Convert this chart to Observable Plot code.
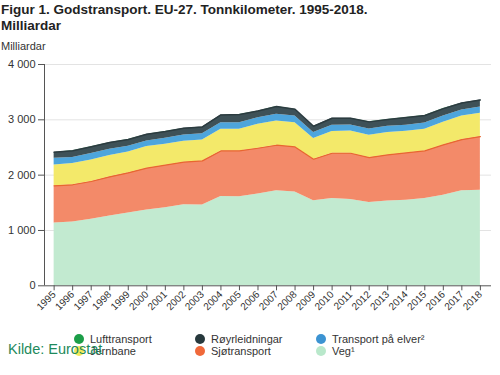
<!DOCTYPE html>
<html>
<head>
<meta charset="utf-8">
<script src="https://cdn.jsdelivr.net/npm/d3@7"></script>
<script src="https://cdn.jsdelivr.net/npm/@observablehq/plot@0.6"></script>
<style>
  html, body { margin: 0; padding: 0; background: #fff; }
  body { width: 500px; height: 375px; position: relative; overflow: hidden; font-family: "Liberation Sans", Arial, sans-serif; }
  #title { position: absolute; left: 1px; top: 2px; font-size: 13.5px; font-weight: bold; color: #222; line-height: 16px; }
  #unit { position: absolute; left: 1px; top: 40px; font-size: 11px; color: #333; }
  #chart { position: absolute; left: 0; top: 0; }
  .leg { position: absolute; font-size: 11px; color: #333; white-space: nowrap; line-height: 12px; }
  .dot { position: absolute; width: 10px; height: 10px; border-radius: 50%; }
  #source { position: absolute; left: 8px; top: 341px; font-size: 14.5px; color: #1e8a5c; white-space: nowrap; }
</style>
</head>
<body>
<div id="title">Figur 1. Godstransport. EU-27. Tonnkilometer. 1995-2018.<br>Milliardar</div>
<div id="unit">Milliardar</div>
<div id="chart"></div>
<div id="legend"></div>
<div id="source">Kilde: Eurostat</div>
<script>
const years = [1995,1996,1997,1998,1999,2000,2001,2002,2003,2004,2005,2006,2007,2008,2009,2010,2011,2012,2013,2014,2015,2016,2017,2018];
const veg  = [1135,1153,1201,1261,1315,1369,1411,1465,1459,1615,1609,1658,1717,1695,1537,1580,1558,1505,1533,1545,1578,1635,1717,1726];
const sjo  = [672,673,684,709,727,757,769,769,799,823,829,828,824,815,751,816,838,813,833,857,860,912,926,971];
const jern = [378,384,391,384,378,390,378,378,378,390,390,433,438,439,373,391,403,403,403,391,391,408,426,420];
const elv  = [121,108,114,114,102,102,108,114,114,120,120,120,120,120,108,114,108,114,114,108,114,114,108,114];
const royr = [108,120,120,120,120,120,120,120,120,139,145,120,138,120,114,126,120,126,120,138,132,132,126,126];
const luft = [2,2,2,2,2,2,2,2,2,2,2,2,2,2,2,2,2,2,2,2,2,2,2,2];

const seriesNames = ["Veg¹","Sjøtransport","Jernbane","Transport på elver²","Røyrleidningar","Lufttransport"];
const seriesValues = [veg, sjo, jern, elv, royr, luft];
const fillColors = ["#c2ead0","#f38a69","#f3e96a","#4da5dc","#3e5157","#1b9e4b"];
const legendColors = ["#b9e8cb","#f0693a","#f3ea5a","#3c93d2","#27393d","#1c9e48"];
const yTicks = [0,1000,2000,3000,4000];

const data = [];
seriesNames.forEach((s, k) => years.forEach((y, i) => data.push({year: y, series: s, value: seriesValues[k][i]})));
const sjoTop = years.map((y, i) => ({year: y, value: veg[i] + sjo[i]}));
const total = years.map((y, i) => ({year: y, value: seriesValues.reduce((a, arr) => a + arr[i], 0)}));

const fmt = d => d3.format(",")(d).replace(/,/g, " ");

const chart = Plot.plot({
  width: 500,
  height: 330,
  marginLeft: 44,
  marginRight: 9,
  marginTop: 64,
  marginBottom: 44.7,
  style: {fontFamily: "'Liberation Sans', Arial, sans-serif", fontSize: "11px", color: "#333", background: "transparent"},
  x: {domain: [1994.48, 2018.6]},
  y: {domain: [0, 4000]},
  color: {domain: seriesNames, range: fillColors},
  marks: [
    Plot.gridY(yTicks.slice(1), {stroke: "#e3e3e3", strokeOpacity: 1}),
    Plot.areaY(data, Plot.stackY({x: "year", y: "value", z: "series", fill: "series", order: seriesNames})),
    Plot.lineY(sjoTop, {x: "year", y: "value", stroke: "#e8662f", strokeWidth: 1.2}),
    Plot.lineY(total, {x: "year", y: "value", stroke: "#2c3c40", strokeWidth: 1.5}),
    Plot.ruleY([0], {stroke: "#555"}),
    Plot.ruleX([1994.48], {y1: 0, y2: 4000, stroke: "#555"}),
    Plot.axisY({ticks: yTicks, tickFormat: fmt, tickSize: 6, tickPadding: 3, stroke: "#555", fontSize: 11, label: null}),
    Plot.axisX({ticks: years, tickFormat: d => String(d), tickSize: 5, tickPadding: 2, tickRotate: -45, stroke: "#555", fontSize: 10, label: null})
  ]
});
document.getElementById("chart").appendChild(chart);

// legend
const legRows = [
  ["Lufttransport","Røyrleidningar","Transport på elver²"],
  ["Jernbane","Sjøtransport","Veg¹"]
];
const colX = [79, 200, 321];
const rowY = [339, 351];
const legend = document.getElementById("legend");
legRows.forEach((row, r) => row.forEach((name, c) => {
  const k = seriesNames.indexOf(name);
  const dot = document.createElement("div");
  dot.className = "dot";
  dot.style.left = (colX[c] - 5) + "px";
  dot.style.top = (rowY[r] - 5) + "px";
  dot.style.background = legendColors[k];
  legend.appendChild(dot);
  const t = document.createElement("div");
  t.className = "leg";
  t.style.left = (colX[c] + 11) + "px";
  t.style.top = (rowY[r] - 6) + "px";
  t.textContent = name;
  legend.appendChild(t);
}));
</script>
</body>
</html>
